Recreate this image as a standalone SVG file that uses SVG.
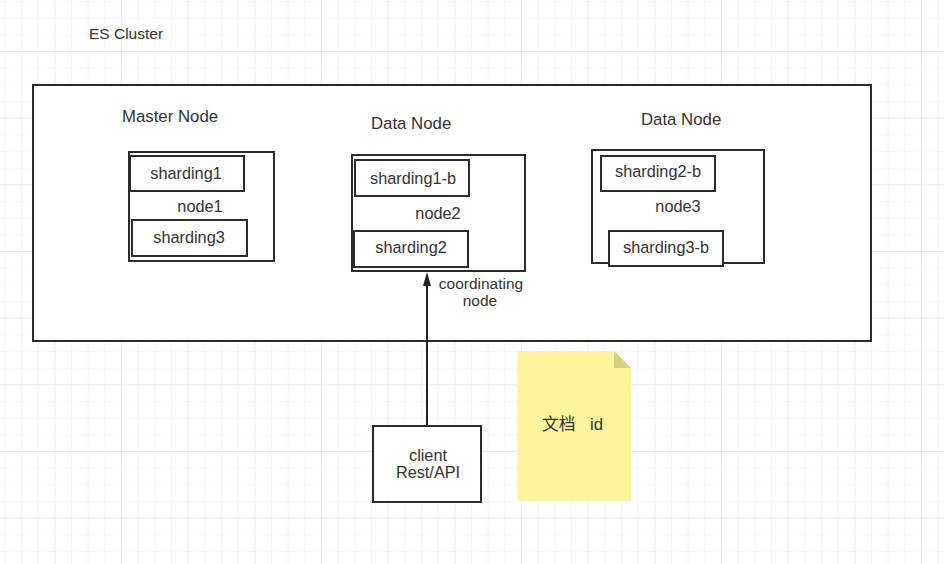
<svg xmlns="http://www.w3.org/2000/svg" width="944" height="564" viewBox="0 0 944 564">
<defs>
<pattern id="gMinor" patternUnits="userSpaceOnUse" x="4.33" y="1" width="16.667" height="16.667">
<path d="M0 0H16.667M0 0V16.667" fill="none" stroke="#f1f1f1" stroke-width="1.2"/>
</pattern>
<pattern id="gMajor" patternUnits="userSpaceOnUse" x="54.33" y="51" width="66.667" height="66.667">
<path d="M0 0H66.667M0 0V66.667" fill="none" stroke="#e6e6e6" stroke-width="1.3"/>
</pattern>
<style>
.box{fill:#fff;stroke:#2b2b2b;stroke-width:2}
.t{font-family:"Liberation Sans","Noto Sans CJK SC",sans-serif;font-size:16.3px;fill:#333;text-anchor:middle}
.lbl{font-family:"Liberation Sans","Noto Sans CJK SC",sans-serif;font-size:16.8px;fill:#333}
.cl{font-family:"Liberation Sans","Noto Sans CJK SC",sans-serif;font-size:15.5px;fill:#333;text-anchor:middle}
</style>
</defs>
<rect width="944" height="564" fill="#fff"/>
<rect width="944" height="564" fill="url(#gMinor)"/>
<rect width="944" height="564" fill="url(#gMajor)"/>

<text class="lbl" x="89" y="39" style="font-size:15.5px">ES Cluster</text>

<g id="cluster">
<rect class="box" x="33" y="85" width="838" height="256"/>
<text class="lbl" x="122" y="122">Master Node</text>
<text class="lbl" x="371" y="129">Data Node</text>
<text class="lbl" x="641" y="125">Data Node</text>
</g>

<g id="node1">
<rect class="box" x="129" y="152" width="145" height="109"/>
<text class="t" x="200" y="212">node1</text>
<rect class="box" x="130" y="156" width="114" height="35"/>
<text class="t" x="186" y="179">sharding1</text>
<rect class="box" x="132" y="220" width="115" height="36"/>
<text class="t" x="189" y="243">sharding3</text>
</g>

<g id="node2">
<rect class="box" x="352" y="155" width="173" height="116"/>
<text class="t" x="438" y="219">node2</text>
<rect class="box" x="355" y="160" width="114" height="36"/>
<text class="t" x="413" y="184">sharding1-b</text>
<rect class="box" x="354" y="231" width="114" height="36"/>
<text class="t" x="411" y="253">sharding2</text>
</g>

<g id="node3">
<rect class="box" x="592" y="150" width="172" height="113"/>
<text class="t" x="678" y="212">node3</text>
<rect class="box" x="601" y="156" width="114" height="35"/>
<text class="t" x="658" y="177">sharding2-b</text>
<rect class="box" x="609" y="231" width="114" height="35"/>
<text class="t" x="666" y="253">sharding3-b</text>
</g>

<g id="client">
<rect class="box" x="373" y="426" width="108" height="76"/>
<text class="t" x="428" y="461">client</text>
<text class="t" x="428" y="478">Rest/API</text>
</g>

<g id="note">
<path d="M517 351 H614 L631 368 V501 H517 Z" fill="#fff59f"/>
<path d="M614 351 L631 368 H614 Z" fill="#d9d07c"/>
<text class="lbl" x="542" y="430">文档</text>
<text class="lbl" x="590" y="430">id</text>
</g>

<g id="connectors">
<line x1="427" y1="425" x2="427" y2="286" stroke="#222" stroke-width="2"/>
<path d="M427 272 L431 286 L423 286 Z" fill="#222"/>
<text class="cl" x="481" y="289">coordinating</text>
<text class="cl" x="480" y="306">node</text>
</g>
</svg>
